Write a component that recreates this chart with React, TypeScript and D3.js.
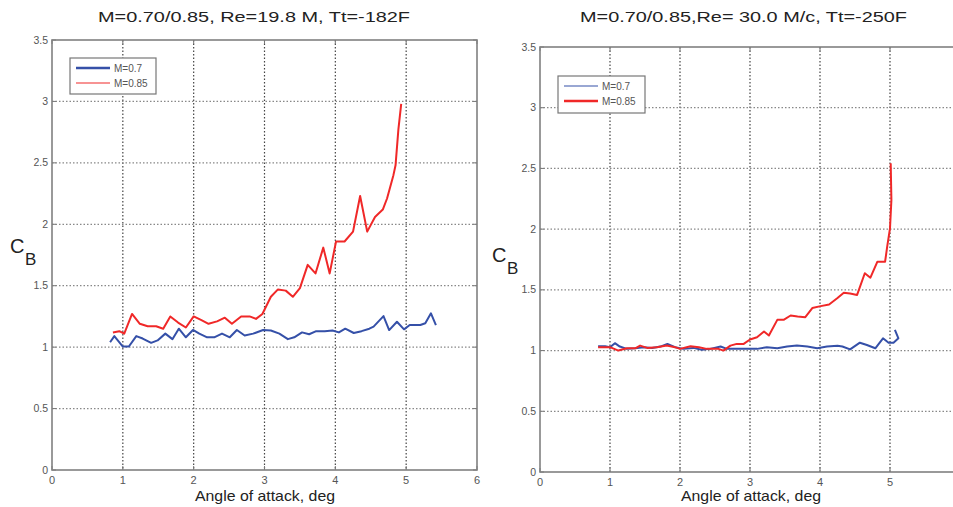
import React from "react";
import * as d3 from "d3";

// ---------- data ----------
const xTicks = [0, 1, 2, 3, 4, 5, 6];
const yTicks = [0, 0.5, 1, 1.5, 2, 2.5, 3, 3.5];
const seriesNames = ["M=0.7", "M=0.85"];

const titleLeft = "M=0.70/0.85, Re=19.8 M, Tt=-182F";
const titleRight = "M=0.70/0.85,Re= 30.0 M/c, Tt=-250F";
const xLabel = "Angle of attack, deg";

// Left panel, M=0.7
const aoaL07 = [0.82,0.88,1.0,1.085,1.19,1.28,1.4,1.49,1.6,1.7,1.79,1.89,1.99,2.08,2.19,2.29,2.4,2.51,2.61,2.72,2.84,2.98,3.09,3.21,3.33,3.42,3.53,3.63,3.73,3.85,3.96,4.05,4.14,4.26,4.37,4.48,4.54,4.68,4.76,4.87,4.97,5.05,5.2,5.27,5.35,5.42];
const cbL07 = [1.04,1.09,1.005,1.005,1.09,1.07,1.035,1.055,1.11,1.065,1.15,1.08,1.14,1.11,1.08,1.08,1.11,1.08,1.14,1.095,1.11,1.14,1.135,1.11,1.065,1.08,1.12,1.105,1.13,1.13,1.135,1.12,1.15,1.115,1.13,1.15,1.167,1.253,1.139,1.207,1.145,1.18,1.18,1.194,1.275,1.18];
// Left panel, M=0.85
const aoaL085 = [0.86,0.95,1.02,1.13,1.24,1.35,1.47,1.57,1.67,1.78,1.89,2.0,2.11,2.21,2.33,2.44,2.54,2.67,2.79,2.88,2.97,3.09,3.19,3.3,3.4,3.5,3.61,3.72,3.83,3.92,4.01,4.13,4.25,4.35,4.45,4.56,4.67,4.73,4.82,4.85,4.89,4.93];
const cbL085 = [1.12,1.13,1.11,1.27,1.19,1.17,1.17,1.15,1.25,1.2,1.16,1.25,1.22,1.19,1.21,1.24,1.19,1.25,1.25,1.23,1.27,1.41,1.47,1.46,1.41,1.48,1.67,1.6,1.81,1.6,1.86,1.86,1.94,2.23,1.94,2.06,2.12,2.21,2.4,2.48,2.77,2.98];
// Right panel, M=0.7
const aoaR07 = [0.83,0.93,1.0,1.07,1.14,1.24,1.36,1.48,1.6,1.72,1.82,1.93,2.05,2.19,2.31,2.43,2.58,2.67,2.81,2.96,3.1,3.24,3.39,3.53,3.67,3.82,3.96,4.1,4.25,4.32,4.43,4.57,4.67,4.79,4.9,4.98,5.05,5.12,5.07];
const cbR07 = [1.036,1.036,1.028,1.061,1.033,1.014,1.019,1.028,1.022,1.033,1.055,1.028,1.014,1.022,1.006,1.014,1.033,1.014,1.014,1.014,1.014,1.028,1.019,1.033,1.041,1.033,1.019,1.033,1.039,1.033,1.01,1.065,1.046,1.019,1.101,1.065,1.065,1.101,1.17];
// Right panel, M=0.85
const aoaR085 = [0.83,1.0,1.12,1.24,1.36,1.43,1.53,1.67,1.81,1.93,2.0,2.15,2.27,2.38,2.55,2.62,2.72,2.81,2.91,3.0,3.1,3.2,3.27,3.39,3.48,3.58,3.68,3.79,3.89,4.01,4.13,4.25,4.34,4.43,4.53,4.64,4.72,4.82,4.93,4.96,5.0,5.02,5.01];
const cbR085 = [1.028,1.028,1.0,1.019,1.019,1.041,1.022,1.028,1.041,1.028,1.014,1.036,1.028,1.014,1.014,1.0,1.041,1.055,1.055,1.091,1.11,1.157,1.124,1.253,1.253,1.289,1.281,1.275,1.35,1.366,1.38,1.433,1.477,1.47,1.458,1.637,1.6,1.732,1.732,1.856,2.007,2.24,2.543];

const BLUE = "#3550a8";
const RED = "#f02828";
const FONT = "'Liberation Sans', Arial, Helvetica, sans-serif";

type PanelProps = {
  x0: number; x1: number; yTop: number; yBot: number;
  title: string; titleX: number; titleLen: number;
  xlabX: number;
  cX: number; cY: number;
  xLabelTicks: number[];
  legend: { x: number; y: number; w: number; h: number; blueW: number; redW: number };
  blue: [number[], number[]];
  red: [number[], number[]];
  clipId: string;
};

function Panel(p: PanelProps) {
  const x = d3.scaleLinear().domain([0, 6]).range([p.x0, p.x1]);
  const y = d3.scaleLinear().domain([0, 3.5]).range([p.yBot, p.yTop]);
  const line = d3.line<[number, number]>().x((d) => x(d[0])).y((d) => y(d[1]));
  const bluePts = p.blue[0].map((v, i) => [v, p.blue[1][i]] as [number, number]);
  const redPts = p.red[0].map((v, i) => [v, p.red[1][i]] as [number, number]);
  const lg = p.legend;
  return (
    <g>
      <defs>
        <clipPath id={p.clipId}>
          <rect x={p.x0} y={p.yTop} width={p.x1 - p.x0} height={p.yBot - p.yTop} />
        </clipPath>
      </defs>
      <rect x={p.x0} y={p.yTop} width={p.x1 - p.x0} height={p.yBot - p.yTop} fill="#fff" />
      {/* grid */}
      {xTicks.slice(1, -1).map((t) => (
        <line key={"gx" + t} x1={x(t)} x2={x(t)} y1={p.yTop} y2={p.yBot}
          stroke="#444" strokeWidth={1.2} strokeDasharray="1.5,2" />
      ))}
      {yTicks.slice(1, -1).map((t) => (
        <line key={"gy" + t} x1={p.x0} x2={p.x1} y1={y(t)} y2={y(t)}
          stroke="#888" strokeWidth={1.2} strokeDasharray="1.5,2" />
      ))}
      {/* ticks */}
      {xTicks.map((t) => (
        <g key={"tx" + t}>
          <line x1={x(t)} x2={x(t)} y1={p.yBot} y2={p.yBot - 4} stroke="#777" />
          <line x1={x(t)} x2={x(t)} y1={p.yTop} y2={p.yTop + 4} stroke="#777" />
        </g>
      ))}
      {p.xLabelTicks.map((t) => (
        <text key={"lx" + t} x={x(t)} y={p.yBot + 14} fontSize={11} fill="#555" textAnchor="middle" fontFamily={FONT}>{t}</text>
      ))}
      {yTicks.map((t) => (
        <g key={"ty" + t}>
          <line x1={p.x0} x2={p.x0 + 4} y1={y(t)} y2={y(t)} stroke="#777" />
          <line x1={p.x1} x2={p.x1 - 4} y1={y(t)} y2={y(t)} stroke="#777" />
          <text x={p.x0 - 4} y={y(t) + 3.5} fontSize={10.5} fill="#555" textAnchor="end" fontFamily={FONT}>{t}</text>
        </g>
      ))}
      {/* data */}
      <g clipPath={`url(#${p.clipId})`}>
        <path d={line(bluePts) || ""} fill="none" stroke={BLUE} strokeWidth={2} strokeLinejoin="round" />
        <path d={line(redPts) || ""} fill="none" stroke={RED} strokeWidth={2} strokeLinejoin="round" />
      </g>
      {/* frame */}
      <rect x={p.x0} y={p.yTop} width={p.x1 - p.x0} height={p.yBot - p.yTop} fill="none" stroke="#808080" strokeWidth={1.6} />
      {/* legend */}
      <rect x={lg.x} y={lg.y} width={lg.w} height={lg.h} fill="#fff" stroke="#777" strokeWidth={1.2} />
      <line x1={lg.x + 6} x2={lg.x + 40} y1={lg.y + 10} y2={lg.y + 10} stroke={BLUE} strokeWidth={lg.blueW} />
      <line x1={lg.x + 6} x2={lg.x + 40} y1={lg.y + 25} y2={lg.y + 25} stroke={RED} strokeWidth={lg.redW} />
      <text x={lg.x + 44} y={lg.y + 13.5} fontSize={10} fill="#555" fontFamily={FONT}>{seriesNames[0]}</text>
      <text x={lg.x + 44} y={lg.y + 28.5} fontSize={10} fill="#555" fontFamily={FONT}>{seriesNames[1]}</text>
      {/* labels */}
      <text x={p.titleX} y={22} fontSize={15.5} fill="#222" textAnchor="middle" fontFamily={FONT}
        textLength={p.titleLen} lengthAdjust="spacingAndGlyphs">{p.title}</text>
      <text x={p.xlabX} y={501} fontSize={15} fill="#222" textAnchor="middle" fontFamily={FONT}
        textLength={140} lengthAdjust="spacingAndGlyphs">{xLabel}</text>
      <text x={p.cX} y={p.cY} fontSize={20} fill="#222" fontFamily={FONT}>C</text>
      <text x={p.cX + 15} y={p.cY + 12} fontSize={17} fill="#222" fontFamily={FONT}>B</text>
    </g>
  );
}

export default function App() {
  return (
    <div>
      <style>{`body{margin:0}`}</style>
      <svg width={953} height={507} style={{ display: "block", background: "#fff" }}>
        <Panel x0={52} x1={477} yTop={40} yBot={470}
          title={titleLeft} titleX={254} titleLen={312} xlabX={265}
          cX={10} cY={253}
          xLabelTicks={xTicks}
          legend={{ x: 70, y: 58, w: 86, h: 36, blueW: 2.5, redW: 1.2 }}
          blue={[aoaL07, cbL07]} red={[aoaL085, cbL085]} clipId="clipL" />
        <Panel x0={540} x1={960} yTop={47} yBot={472}
          title={titleRight} titleX={743.5} titleLen={327} xlabX={751}
          cX={492} cY={262}
          xLabelTicks={xTicks.slice(0, -1)}
          legend={{ x: 558, y: 76, w: 87, h: 37, blueW: 1.2, redW: 2.5 }}
          blue={[aoaR07, cbR07]} red={[aoaR085, cbR085]} clipId="clipR" />
      </svg>
    </div>
  );
}
